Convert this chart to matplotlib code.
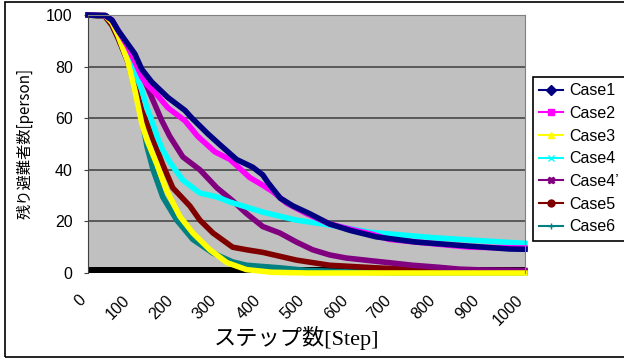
import matplotlib
matplotlib.use("Agg")
import matplotlib.pyplot as plt
from matplotlib.lines import Line2D
from matplotlib.patches import Rectangle
from matplotlib.transforms import ScaledTranslation

# remaining evacuees per step
case1_steps = [0, 40, 55, 69, 90, 107, 123, 146, 183, 222, 238, 274, 300, 340, 377, 400, 412, 440, 469, 507, 553, 600, 660, 750, 866, 965, 1000]
case1_vals = [100, 99.8, 98, 94, 89, 85, 79, 74, 68, 63, 60, 54, 50, 44, 41, 38, 35, 29, 26, 23, 19, 16.5, 14, 12, 10.5, 9.3, 9.2]

case2_steps = [0, 40, 55, 69, 90, 107, 123, 135, 153, 183, 222, 251, 290, 325, 370, 400, 423, 455, 500, 553, 600, 651, 690, 750, 873, 994, 1000]
case2_vals = [100, 99.8, 98, 94, 88, 82, 76, 73, 70, 64, 59, 53, 47, 44, 37, 34, 31.5, 27, 23, 19, 17, 15, 13, 12, 10, 9.7, 9.7]

case3_steps = [0, 40, 55, 69, 91, 107, 123, 135, 158, 180, 210, 240, 279, 318, 363, 420, 500, 1000]
case3_vals = [100, 99.8, 97, 92, 82, 71, 58, 51.5, 42, 32, 22, 15.5, 9, 4, 1.3, 0.3, 0, 0]

case4_steps = [0, 40, 55, 69, 91, 107, 123, 135, 146, 158, 170, 187, 217, 256, 295, 325, 354, 400, 477, 553, 645, 700, 797, 900, 1000]
case4_vals = [100, 99.8, 97.5, 93, 85, 78, 71, 64, 59, 53, 48, 43, 36, 31, 29.5, 27.5, 26, 23.6, 20.5, 18.6, 15.8, 15, 13.6, 12.5, 11.5]

case4d_steps = [0, 40, 55, 69, 90, 107, 126, 146, 169, 187, 217, 256, 295, 331, 363, 400, 439, 477, 514, 553, 591, 645, 700, 743, 797, 850, 900, 1000]
case4d_vals = [100, 99.8, 97.5, 93, 88, 84, 76, 68, 59, 53, 45, 40, 33, 28, 23, 18, 15.5, 12, 9, 7, 5.8, 4.8, 3.8, 3, 2.3, 1.5, 1.2, 1]

case5_steps = [0, 39, 55, 69, 91, 107, 123, 142, 171, 194, 233, 256, 286, 331, 363, 400, 477, 553, 660, 800, 1000]
case5_vals = [100, 99.5, 96, 91, 82, 73, 63, 55, 42, 33, 26, 20.5, 15.5, 10, 9, 8, 5, 3, 2, 1, 0.5]

case6_steps = [0, 39, 55, 69, 91, 107, 120, 135, 149, 171, 203, 240, 286, 331, 363, 439, 500, 600, 700, 1000]
case6_vals = [100, 99.5, 96, 91, 82, 72, 63, 49, 40, 29.5, 20.5, 13, 7.7, 4.3, 3, 2, 1, 0.4, 0.1, 0.1]

labels = ["Case1", "Case2", "Case3", "Case4", "Case4’", "Case5", "Case6"]
colors = ["#000080", "#FF00FF", "#FFFF00", "#00FFFF", "#800080", "#800000", "#008080"]
markers = ["D", "s", "^", "x", "X", "o", "+"]
x_ticks = list(range(0, 1001, 100))
y_ticks = [0, 20, 40, 60, 80, 100]

series = [
    (case1_steps, case1_vals),
    (case2_steps, case2_vals),
    (case3_steps, case3_vals),
    (case4_steps, case4_vals),
    (case4d_steps, case4d_vals),
    (case5_steps, case5_vals),
    (case6_steps, case6_vals),
]

fig = plt.figure(figsize=(6.24, 3.6), dpi=100)
ax = fig.add_axes([88 / 624, 1 - 273 / 360, 437 / 624, 258 / 360])
ax.set_facecolor("#C0C0C0")

# thick black base line along zero
ax.plot([0, 1000], [1.2, 1.2], color="black", lw=4.3, solid_capstyle="butt", zorder=1.5)

# draw in reverse so Case1 ends up on top
for (steps, vals), c in reversed(list(zip(series, colors))):
    ax.plot(steps, vals, color=c, lw=4, solid_joinstyle="round", zorder=2, clip_on=False)

ax.set_xlim(0, 1000)
ax.set_ylim(0, 100)
ax.set_xticks(x_ticks)
ax.set_yticks(y_ticks)
ax.yaxis.grid(True, color="#474747", lw=1.2)
ax.set_axisbelow(True)

for side in ["top", "right"]:
    ax.spines[side].set_color("#808080")
ax.spines["left"].set_color("#404040")
ax.spines["bottom"].set_visible(False)

ax.tick_params(axis="y", length=3, color="#404040", pad=8, labelsize=11.5)
ax.tick_params(axis="x", length=0, pad=14, labelsize=11.5)
for t in ax.get_yticklabels():
    t.set_fontfamily("Liberation Sans")
shift = ScaledTranslation(-10 / 100, 0, fig.dpi_scale_trans)
for t in ax.get_xticklabels():
    t.set_fontfamily("Liberation Sans")
    t.set_rotation(45)
    t.set_ha("right")
    t.set_va("top")
    t.set_rotation_mode("anchor")
    t.set_transform(t.get_transform() + shift)

fig.text(297 / 624, 1 - 338 / 360, "ステップ数[Step]", ha="center", va="center",
         fontsize=16, family=["Liberation Serif", "Noto Sans CJK JP"])
fig.text(25 / 624, 1 - 143 / 360, "残り避難者数[person]", ha="center", va="center",
         rotation=90, fontsize=11, family=["Noto Sans CJK JP", "DejaVu Sans"])

handles = [Line2D([], [], color=c, marker=m, markersize=5, lw=1.5)
           for c, m in zip(colors, markers)]
leg = fig.legend(handles, labels, loc="upper left",
                 bbox_to_anchor=(533 / 624, 1 - 77 / 360), borderaxespad=0,
                 fancybox=False, edgecolor="black", framealpha=1,
                 prop={"family": "Liberation Sans", "size": 11.5},
                 handlelength=1.5, handletextpad=0.35, borderpad=0.4,
                 labelspacing=0.48)
leg.get_frame().set_linewidth(1.2)

# outer chart border
fig.patches.append(Rectangle((5 / 624, 3 / 360), 1.0, 355 / 360, transform=fig.transFigure,
                             fill=False, ec="black", lw=1.2))

fig.savefig("out.png", dpi=100)
